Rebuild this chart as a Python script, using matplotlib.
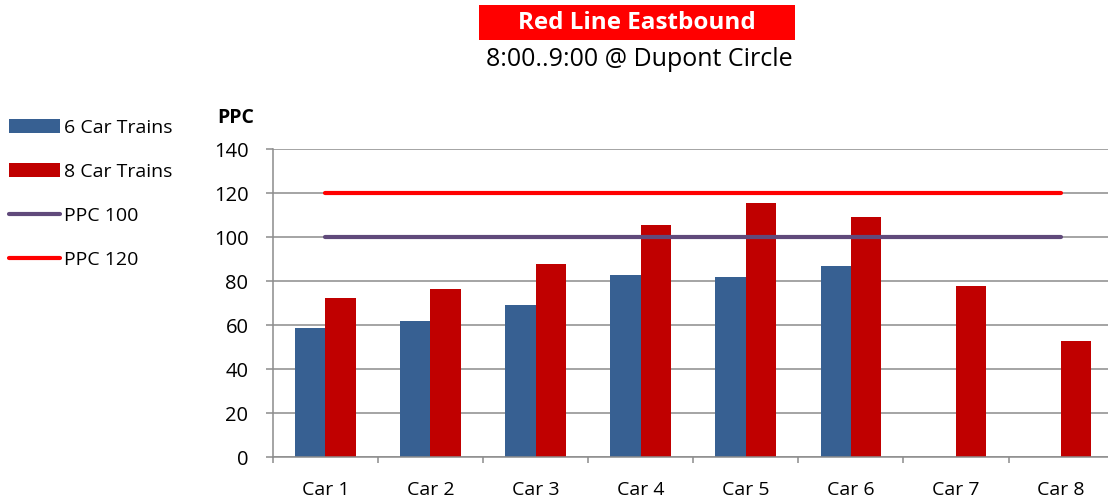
import numpy as np
import matplotlib
matplotlib.use("Agg")
import matplotlib.pyplot as plt
from matplotlib.patches import Rectangle

plt.rcParams['font.family'] = ['Open Sans', 'DejaVu Sans']

categories = ["Car 1", "Car 2", "Car 3", "Car 4", "Car 5", "Car 6", "Car 7", "Car 8"]
six_car = [58.6, 61.8, 69.1, 82.9, 82.1, 87.0, None, None]
eight_car = [72.4, 76.4, 87.7, 105.7, 115.5, 108.9, 78.0, 52.9]
ppc100 = [100] * 8
ppc120 = [120] * 8
yticks = [0, 20, 40, 60, 80, 100, 120, 140]

W, H = 1108, 504
fig = plt.figure(figsize=(W / 100, H / 100), dpi=100)
ax = fig.add_axes([272.7 / W, 46.7 / H, (1113.7 - 272.7) / W, 308.3 / H])

x = np.arange(len(categories))
six = np.array([np.nan if v is None else v for v in six_car], dtype=float)
eight = np.array(eight_car, dtype=float)
bw = 0.288
grey = '#8c8c8c'

b1 = ax.bar(x - bw / 2, np.nan_to_num(six), bw, color='#376092', label='6 Car Trains', zorder=2)
b2 = ax.bar(x + bw / 2, eight, bw, color='#C00000', label='8 Car Trains', zorder=2)
l1, = ax.plot(x, ppc100, color='#604A7B', lw=3, solid_capstyle='round', label='PPC 100', zorder=3)
l2, = ax.plot(x, ppc120, color='#FF0000', lw=3, solid_capstyle='round', label='PPC 120', zorder=3)

ax.set_xlim(-0.5, 7.5)
ax.set_ylim(0, 140)
ax.set_yticks(yticks)
ax.set_xticks(x)
ax.set_xticklabels(categories)
ax.set_xticks(np.arange(-0.5, 8.0, 1.0), minor=True)
ax.tick_params(axis='x', which='major', length=0, labelsize=14, pad=17, colors='black')
ax.tick_params(axis='x', which='minor', length=4, width=1.1, color=grey, direction='out')
ax.tick_params(axis='y', which='major', length=5, width=1.1, color=grey, direction='out',
               labelsize=14.5, pad=12.5)
ax.yaxis.grid(True, color=grey, lw=1.1)
ax.set_axisbelow(True)
for s in ['top', 'right']:
    ax.spines[s].set_visible(False)
for s in ['left', 'bottom']:
    ax.spines[s].set_color(grey)
    ax.spines[s].set_linewidth(1.1)

# PPC label
fig.text(236 / W, 1 - 118 / H, 'PPC', fontsize=14, fontweight='bold', ha='center', va='center')

# Title box
fig.patches.append(Rectangle((479 / W, 1 - 40 / H), 316 / W, 35 / H,
                             transform=fig.transFigure, facecolor='#FF0000', edgecolor='none'))
fig.text(637 / W, 1 - 23 / H, 'Red Line Eastbound', color='white', fontsize=17.5, fontweight='bold',
         ha='center', va='center')
fig.text(639 / W, 1 - 60 / H, '8:00..9:00 @ Dupont Circle', color='black', fontsize=18,
         ha='center', va='center')

fig.legend(handles=[b1, b2, l1, l2], loc='upper left', bbox_to_anchor=(9 / W, 1 - 119 / H),
           frameon=False, fontsize=14, handlelength=2.6, handletextpad=0.25,
           labelspacing=1.34, borderpad=0, borderaxespad=0)

fig.savefig('out.png', dpi=100)
